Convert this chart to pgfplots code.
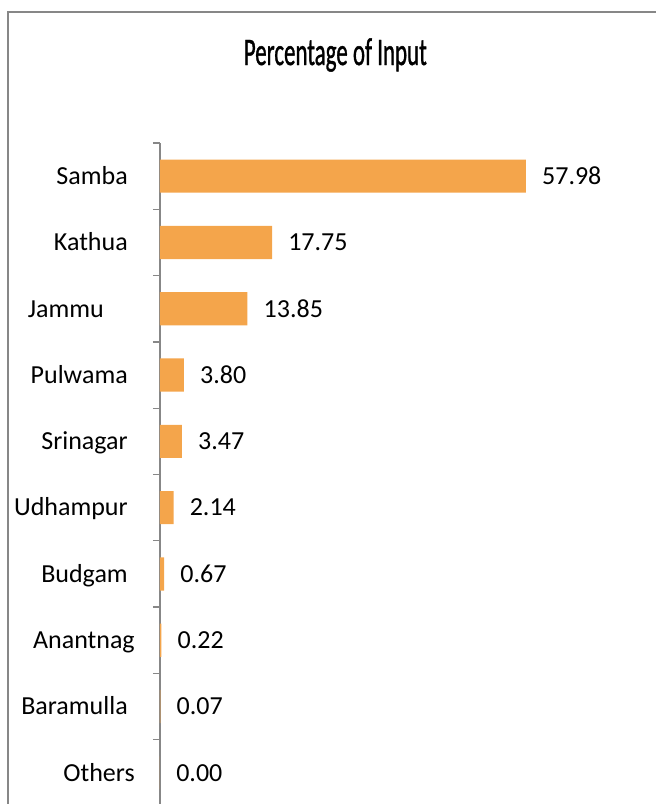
\documentclass[border=0pt]{standalone}
\usepackage{fontspec}
\setmainfont{Carlito}
\newfontfamily\titlefont{Carlito}[FakeBold=1.2]
\usepackage{graphicx}
\usepackage{pgfplots}
\usepackage{pgfplotstable}
\pgfplotsset{compat=1.18}

\definecolor{barorange}{HTML}{F4A54B}
\definecolor{framegray}{HTML}{878787}

\pgfplotstableread{
y x lab
0 57.98 57.98
1 17.75 17.75
2 13.85 13.85
3 3.80 3.80
4 3.47 3.47
5 2.14 2.14
6 0.67 0.67
7 0.22 0.22
8 0.07 0.07
9 0.00 0.00
}\inputdata

\begin{document}
\begin{tikzpicture}
    % picture is 656x804 px, 1 px = 0.75pt, origin top left
    \path[use as bounding box] (0pt,0pt) rectangle (492pt,-603pt);
    \draw[framegray, line width=1.5pt] (492pt,-9pt) -- (6pt,-9pt) -- (6pt,-603pt);
    \node[anchor=base, inner sep=0pt, font=\titlefont\fontsize{29.25}{35}\selectfont]
        at (251.5pt,-48.75pt) {\resizebox{137.25pt}{\height}{Percentage of Input}};

    \begin{axis}[
        at={(120pt,-107.25pt)},
        anchor=north west,
        scale only axis,
        width=331.3pt,
        height=495.75pt,
        xbar,
        bar shift=0pt,
        bar width=0.5,
        y dir=reverse,
        xmin=0, xmax=70,
        ymin=-0.5, ymax=9.47,
        enlargelimits=false,
        clip=false,
        axis lines*=left,
        x axis line style={draw=none},
        y axis line style={framegray, line width=1pt},
        xtick=\empty,
        ytick={0,...,9},
        yticklabels={Samba, Kathua, Jammu\hspace*{18pt}, Pulwama, Srinagar,
            Udhampur, Budgam, Anantnag\hspace*{-5.25pt}, Baramulla, Others\hspace*{-5.25pt}},
        major tick length=0pt,
        yticklabel style={font=\fontsize{19.5}{23}\selectfont, anchor=east,
            inner sep=0pt, xshift=-24pt, text height=12.5pt, text depth=0pt},
        extra y ticks={-0.5,0.5,...,8.5},
        extra y tick labels={},
        extra y tick style={major tick length=5.25pt, tick align=outside,
            tick style={framegray, line width=1pt}},
        point meta=explicit symbolic,
        nodes near coords,
        nodes near coords style={font=\fontsize{19.5}{23}\selectfont, anchor=west,
            inner sep=0pt, xshift=12pt, text height=12.5pt, text depth=0pt, black},
    ]
        \addplot[fill=barorange, draw=none] table[x=x, y=y, meta=lab] {\inputdata};
    \end{axis}
\end{tikzpicture}
\end{document}
